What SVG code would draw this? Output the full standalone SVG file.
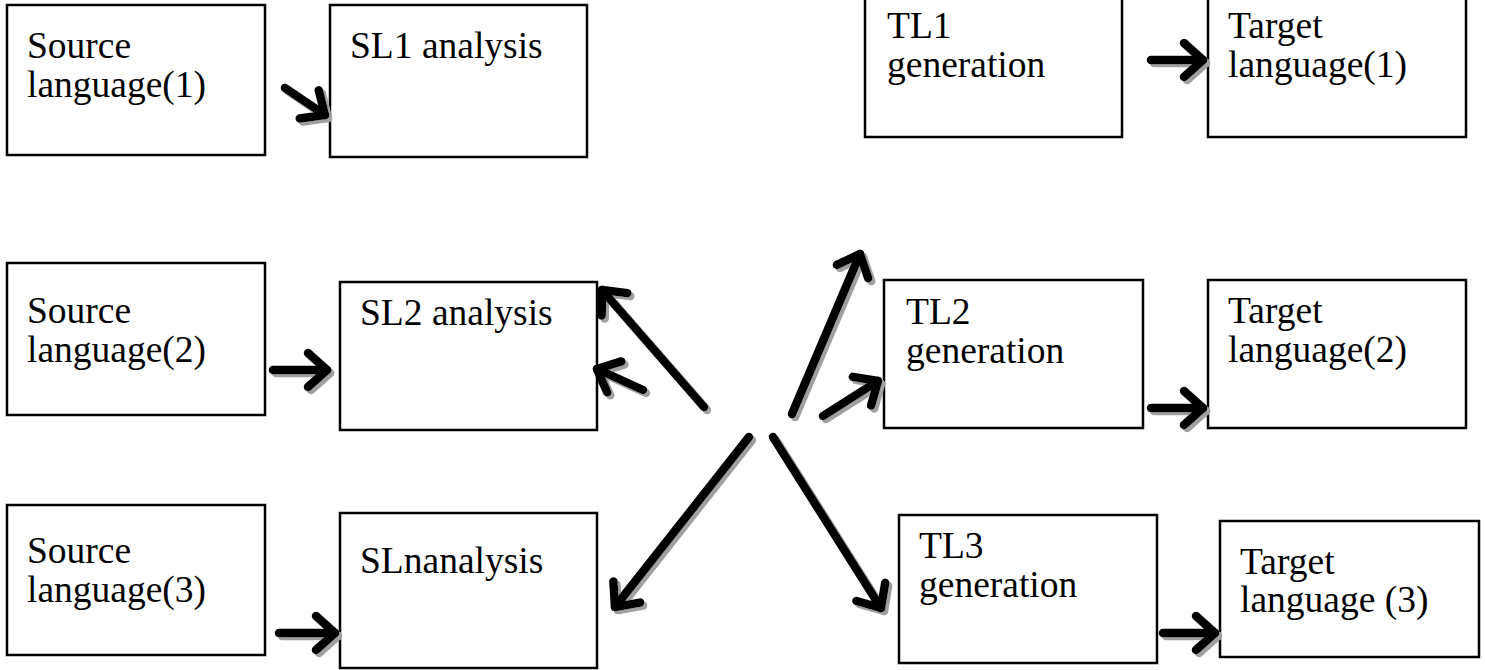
<svg xmlns="http://www.w3.org/2000/svg" width="1485" height="670" viewBox="0 0 1485 670">
  <style>
    .box { fill: #fff; stroke: #000; stroke-width: 2.5; }
    .lbl { font-family: "Liberation Serif", "Times New Roman", serif; font-size: 37.5px; fill: #000; }
    .arrow { fill: none; stroke: #000; stroke-width: 8.5; stroke-linecap: round; marker-end: url(#head); }
  </style>
  <defs>
    <marker id="head" markerUnits="userSpaceOnUse" viewBox="-30 -30 40 60" refX="0" refY="0" markerWidth="40" markerHeight="60" orient="auto" overflow="visible">
      <path d="M -19 -17 L 0 0 L -19 17" fill="none" stroke="#000" stroke-width="8.5" stroke-linecap="round" stroke-linejoin="round"/>
    </marker>
    <filter id="shadow" x="-20%" y="-20%" width="140%" height="140%">
      <feDropShadow dx="3" dy="3" stdDeviation="0.5" flood-color="#a0a0a0" flood-opacity="1"/>
    </filter>
  </defs>

  <rect width="1485" height="670" fill="#fff"/>

  <!-- source languages -->
  <g id="src1">
    <rect class="box" x="7" y="5" width="258" height="150"/>
    <text class="lbl" x="27" y="58">Source</text>
    <text class="lbl" x="27" y="97">language(1)</text>
  </g>
  <g id="src2">
    <rect class="box" x="7" y="263" width="258" height="152"/>
    <text class="lbl" x="27" y="323">Source</text>
    <text class="lbl" x="27" y="362">language(2)</text>
  </g>
  <g id="src3">
    <rect class="box" x="7" y="505" width="258" height="150"/>
    <text class="lbl" x="27" y="563">Source</text>
    <text class="lbl" x="27" y="602">language(3)</text>
  </g>

  <!-- analysis stages -->
  <g id="sl1">
    <rect class="box" x="330" y="5" width="257" height="152"/>
    <text class="lbl" x="350" y="58">SL1 analysis</text>
  </g>
  <g id="sl2">
    <rect class="box" x="340" y="282" width="257" height="148"/>
    <text class="lbl" x="360" y="325">SL2 analysis</text>
  </g>
  <g id="sln">
    <rect class="box" x="340" y="513" width="257" height="155"/>
    <text class="lbl" x="360" y="573">SLnanalysis</text>
  </g>

  <!-- generation stages -->
  <g id="tl1">
    <rect class="box" x="865" y="-5" width="257" height="142"/>
    <text class="lbl" x="887" y="38">TL1</text>
    <text class="lbl" x="887" y="77">generation</text>
  </g>
  <g id="tl2">
    <rect class="box" x="884" y="280" width="259" height="148"/>
    <text class="lbl" x="906" y="324">TL2</text>
    <text class="lbl" x="906" y="363">generation</text>
  </g>
  <g id="tl3">
    <rect class="box" x="899" y="515" width="258" height="148"/>
    <text class="lbl" x="919" y="558">TL3</text>
    <text class="lbl" x="919" y="597">generation</text>
  </g>

  <!-- target languages -->
  <g id="tgt1">
    <rect class="box" x="1208" y="-5" width="258" height="142"/>
    <text class="lbl" x="1228" y="38">Target</text>
    <text class="lbl" x="1228" y="77">language(1)</text>
  </g>
  <g id="tgt2">
    <rect class="box" x="1208" y="280" width="258" height="148"/>
    <text class="lbl" x="1228" y="323">Target</text>
    <text class="lbl" x="1228" y="362">language(2)</text>
  </g>
  <g id="tgt3">
    <rect class="box" x="1220" y="521" width="259" height="136"/>
    <text class="lbl" x="1240" y="574">Target</text>
    <text class="lbl" x="1240" y="612">language (3)</text>
  </g>

  <!-- connectors -->
  <g id="connectors" filter="url(#shadow)">
    <path class="arrow" d="M 285 88 L 325 115"/>
    <path class="arrow" d="M 273 370 L 327 370"/>
    <path class="arrow" d="M 279 633 L 335 633"/>

    <path class="arrow" d="M 704 407 L 602 290"/>
    <path class="arrow" d="M 643 390 L 597 369"/>
    <path class="arrow" d="M 749 437 L 615 607"/>

    <path class="arrow" d="M 792 414 L 860 254"/>
    <path class="arrow" d="M 823 416 L 878 381"/>
    <path class="arrow" d="M 773 437 L 881 608"/>

    <path class="arrow" d="M 1151 60 L 1203 60"/>
    <path class="arrow" d="M 1151 408 L 1203 408"/>
    <path class="arrow" d="M 1163 633 L 1215 633"/>
  </g>
</svg>
